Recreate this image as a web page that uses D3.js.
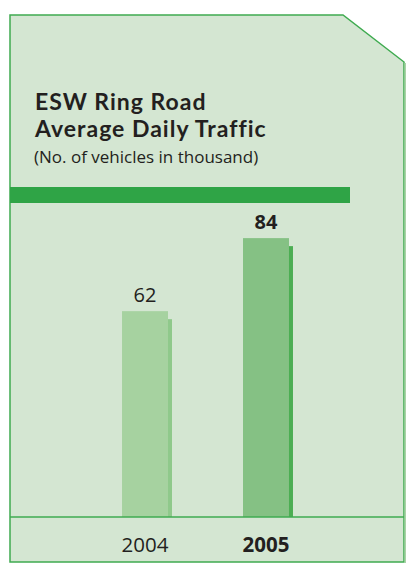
<!DOCTYPE html>
<html>
<head>
<meta charset="utf-8">
<script src="https://cdn.jsdelivr.net/npm/d3@7"></script>
<style>
  html, body { margin: 0; padding: 0; background: #fff; }
  svg { display: block; font-family: "Open Sans", "Noto Sans", sans-serif; }
</style>
</head>
<body>
<div id="chart"></div>
<script>
const years = ["2004", "2005"];
const traffic = [62, 84];
const titleLines = ["ESW Ring Road", "Average Daily Traffic"];
const subtitle = "(No. of vehicles in thousand)";

const W = 406, H = 563;
const COL = {
  bg: "#d4e6d2", border: "#3fab50", band: "#2fa446",
  bar: ["#a6d2a0", "#85c184"], shade: ["#8fc98b", "#4cae53"], ink: "#231f20"
};

const svg = d3.select("#chart").append("svg").attr("width", W).attr("height", H);

// panel with cut corner
svg.append("path")
  .attr("d", "M10,15 L343,15 L404,62 L404,562 L10,562 Z")
  .attr("fill", COL.bg).attr("stroke", COL.border).attr("stroke-width", 1.5);
svg.append("line").attr("x1", 405.5).attr("x2", 405.5).attr("y1", 63).attr("y2", 563)
  .attr("stroke", "#a9d3a6").attr("stroke-width", 2);

// title block
titleLines.forEach((s, i) => svg.append("text")
  .attr("x", 35).attr("y", 110 + i * 27).attr("fill", COL.ink)
  .style("font-family", "Lato, sans-serif").style("font-weight", 700).style("font-size", "23px")
  .style("letter-spacing", "1px").text(s));
svg.append("text").attr("x", 34).attr("y", 163).attr("fill", COL.ink)
  .style("font-size", "17px").text(subtitle);

svg.append("rect").attr("x", 10).attr("y", 187).attr("width", 340).attr("height", 16).attr("fill", COL.band);

// scales
const x = d3.scaleBand().domain(years).range([47, 364]).paddingInner(0.62).paddingOuter(0.62);
const y = d3.scaleLinear().domain([0, 100]).range([517, 185]);
const rows = years.map((yr, i) => ({ yr, v: traffic[i], i }));

const g = svg.append("g");
g.selectAll(".shade").data(rows).join("rect")
  .attr("class", "shade")
  .attr("x", (d) => x(d.yr) + 4).attr("y", (d) => y(d.v) + 8)
  .attr("width", x.bandwidth()).attr("height", (d) => y(0) - y(d.v) - 8)
  .attr("fill", (d) => COL.shade[d.i]);
g.selectAll(".bar").data(rows).join("rect")
  .attr("class", "bar")
  .attr("x", (d) => x(d.yr)).attr("y", (d) => y(d.v))
  .attr("width", x.bandwidth()).attr("height", (d) => y(0) - y(d.v))
  .attr("fill", (d) => COL.bar[d.i]);
g.selectAll(".val").data(rows).join("text")
  .attr("class", "val")
  .attr("x", (d) => x(d.yr) + x.bandwidth() / 2).attr("y", (d) => y(d.v) - 9)
  .attr("text-anchor", "middle").attr("fill", COL.ink)
  .style("font-size", "20px").style("font-weight", (d) => (d.i === 1 ? 700 : 400))
  .text((d) => d.v);

// baseline + year labels
svg.append("line").attr("x1", 10).attr("x2", 404).attr("y1", y(0)).attr("y2", y(0))
  .attr("stroke", COL.border).attr("stroke-width", 1.5);
svg.append("g").attr("transform", `translate(0,${y(0)})`)
  .call(d3.axisBottom(x).tickSize(0).tickPadding(20))
  .call((a) => a.select(".domain").remove())
  .selectAll("text")
  .style("font-family", "\"Open Sans\", \"Noto Sans\", sans-serif").style("font-size", "20.5px")
  .style("font-weight", (d) => (d === "2005" ? 700 : 400)).attr("fill", COL.ink);
</script>
</body>
</html>
